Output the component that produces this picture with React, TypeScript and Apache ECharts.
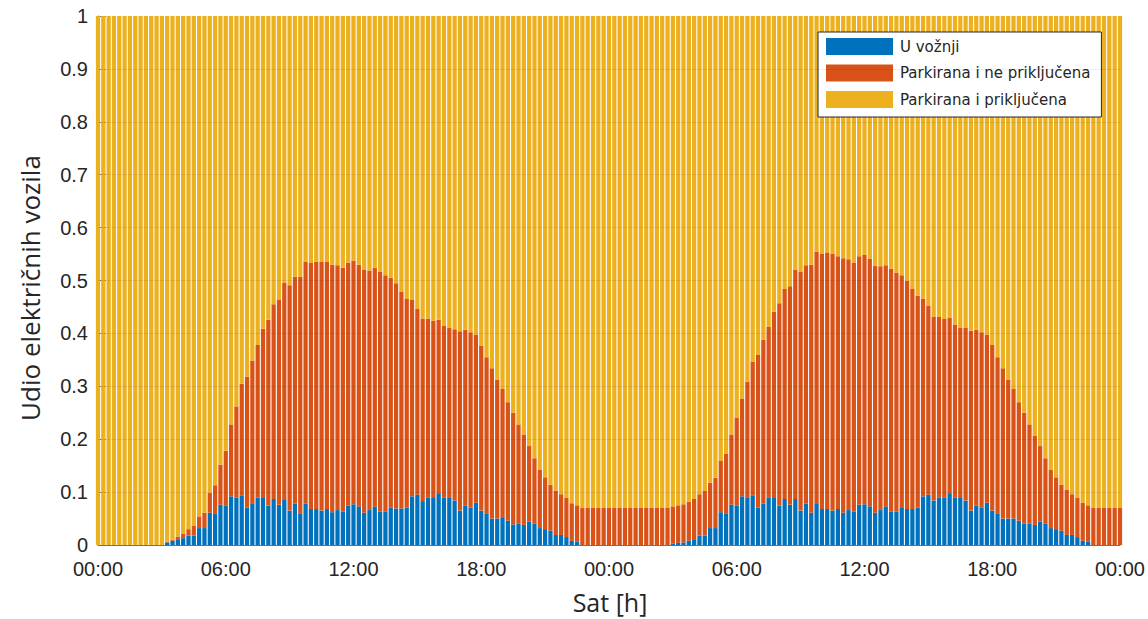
import React, { useEffect, useRef } from "react";
import * as echarts from "echarts";

// Share of vehicles driving, per 15-minute slot (k = 0..95 on day 1)
const drivingDay1 = [
  0, 0, 0, 0, 0, 0, 0, 0, 0, 0, 0, 0, 0,
  0.005, 0.008, 0.011, 0.013, 0.018, 0.018, 0.032, 0.032, 0.061, 0.06, 0.076, 0.075,
  0.092, 0.09, 0.094, 0.071, 0.079, 0.09, 0.089, 0.074, 0.087, 0.076, 0.085, 0.065,
  0.078, 0.06, 0.078, 0.068, 0.068, 0.065, 0.068, 0.062, 0.066,
  0.063, 0.075, 0.077, 0.073, 0.061, 0.066, 0.073, 0.063, 0.063, 0.071, 0.069, 0.069,
  0.071, 0.092, 0.095, 0.083, 0.09, 0.089, 0.098, 0.09, 0.089, 0.084, 0.065, 0.075,
  0.071, 0.08, 0.065, 0.06, 0.05, 0.05, 0.051, 0.046, 0.039, 0.04, 0.038, 0.044,
  0.04, 0.032, 0.03, 0.027, 0.019, 0.019, 0.015, 0.008, 0.006,
  0, 0, 0, 0, 0,
];
// k = 96..192 (day 2, incl. the closing 00:00 slot)
const drivingDay2 = [
  0, 0, 0, 0, 0, 0, 0, 0, 0, 0, 0, 0,
  0.003, 0.004, 0.005, 0.008, 0.011, 0.018, 0.018, 0.032, 0.032, 0.062, 0.06, 0.076,
  0.075, 0.092, 0.089, 0.094, 0.071, 0.078, 0.09, 0.089, 0.074, 0.087, 0.076, 0.087,
  0.065, 0.078, 0.061, 0.079, 0.068, 0.068, 0.065, 0.068, 0.061, 0.066, 0.063, 0.076,
  0.077, 0.073, 0.061, 0.066, 0.073, 0.063, 0.063, 0.07, 0.068, 0.068, 0.071, 0.092,
  0.095, 0.084, 0.09, 0.09, 0.098, 0.09, 0.089, 0.084, 0.065, 0.075, 0.071, 0.08,
  0.065, 0.06, 0.05, 0.05, 0.05, 0.046, 0.04, 0.04, 0.038, 0.044, 0.04, 0.032,
  0.03, 0.027, 0.019, 0.019, 0.015, 0.008, 0.006,
  0, 0, 0, 0, 0, 0,
];
// Share of vehicles not plugged in (driving + parked and not plugged)
const notPluggedDay1 = [
  0, 0, 0, 0, 0, 0, 0, 0, 0, 0, 0, 0, 0,
  0.006, 0.01, 0.016, 0.021, 0.03, 0.036, 0.054, 0.061, 0.099, 0.113, 0.152, 0.178,
  0.228, 0.262, 0.305, 0.318, 0.349, 0.378, 0.409, 0.426, 0.455, 0.463, 0.496, 0.491,
  0.507, 0.507, 0.536, 0.533, 0.536, 0.535, 0.535, 0.53, 0.529,
  0.524, 0.534, 0.538, 0.53, 0.52, 0.519, 0.524, 0.517, 0.51, 0.505, 0.495, 0.479,
  0.465, 0.463, 0.446, 0.428, 0.428, 0.424, 0.426, 0.414, 0.41, 0.408, 0.404, 0.407,
  0.402, 0.398, 0.376, 0.355, 0.334, 0.313, 0.295, 0.27, 0.25, 0.228, 0.209, 0.187,
  0.164, 0.142, 0.128, 0.114, 0.103, 0.096, 0.089, 0.079, 0.075,
  0.07, 0.07, 0.07, 0.07, 0.07,
];
const notPluggedDay2 = [
  0.07, 0.07, 0.07, 0.07, 0.07, 0.07, 0.07, 0.07, 0.07, 0.07, 0.07, 0.07,
  0.073, 0.075, 0.077, 0.082, 0.087, 0.096, 0.102, 0.118, 0.127, 0.159, 0.173, 0.209,
  0.24, 0.277, 0.309, 0.347, 0.359, 0.388, 0.412, 0.441, 0.457, 0.484, 0.489, 0.521,
  0.516, 0.529, 0.53, 0.555, 0.55, 0.552, 0.551, 0.546, 0.542, 0.54, 0.534, 0.546,
  0.548, 0.541, 0.528, 0.527, 0.529, 0.522, 0.515, 0.51, 0.5, 0.484, 0.471, 0.466,
  0.452, 0.432, 0.431, 0.427, 0.429, 0.417, 0.41, 0.41, 0.405, 0.407, 0.402, 0.398,
  0.378, 0.355, 0.334, 0.313, 0.295, 0.27, 0.25, 0.228, 0.207, 0.187, 0.164, 0.142,
  0.128, 0.114, 0.104, 0.096, 0.089, 0.08, 0.075,
  0.07, 0.07, 0.07, 0.07, 0.07, 0.07,
];

const seriesNames = ["U vožnji", "Parkirana i ne priključena", "Parkirana i priključena"];
const seriesColors = ["#0072BD", "#D95319", "#EDB120"];
const xTickLabels = ["00:00", "06:00", "12:00", "18:00", "00:00", "06:00", "12:00", "18:00", "00:00"];
const yTicks = [0, 0.1, 0.2, 0.3, 0.4, 0.5, 0.6, 0.7, 0.8, 0.9, 1];

export default function App() {
  const ref = useRef<HTMLDivElement>(null);

  useEffect(() => {
    document.body.style.margin = "0";
    if (!ref.current) return;
    const chart = echarts.init(ref.current, null, { renderer: "svg" });

    const driving = [...drivingDay1, ...drivingDay2];
    const notPlugged = [...notPluggedDay1, ...notPluggedDay2];
    const parkedUnplugged = notPlugged.map((v, i) => +(v - driving[i]).toFixed(4));
    const parkedPlugged = notPlugged.map((v) => +(1 - v).toFixed(4));
    const categories = driving.map((_, k) => String(k));

    const gridLines = yTicks.slice(1, -1).map((v) => ({ yAxis: v }));

    const mk = (name: string, color: string, data: number[], extra: any = {}) => ({
      name,
      type: "bar",
      stack: "all",
      data,
      barWidth: "80%",
      clip: true,
      itemStyle: { color },
      emphasis: { disabled: true },
      ...extra,
    });

    chart.setOption({
      animation: false,
      backgroundColor: "#ffffff",
      grid: { left: 98, right: 27, top: 16, bottom: 74, containLabel: false },
      legend: {
        orient: "vertical",
        left: 818,
        top: 32,
        icon: "rect",
        itemWidth: 67,
        itemHeight: 17,
        itemGap: 9.5,
        padding: [6, 11, 9, 8],
        backgroundColor: "#ffffff",
        borderColor: "#262626",
        borderWidth: 1,
        textStyle: { fontFamily: "DejaVu Sans", fontSize: 15, color: "#262626", padding: [0, 0, 0, 2] },
        data: seriesNames,
      },
      xAxis: {
        type: "category",
        data: categories,
        boundaryGap: false,
        axisLine: { show: true, lineStyle: { color: "#707070", width: 1 } },
        axisTick: { show: true, inside: true, length: 9, interval: 23, lineStyle: { color: "#707070" } },
        axisLabel: {
          interval: 23,
          margin: 14,
          fontFamily: "Liberation Sans",
          fontSize: 20,
          color: "#262626",
          formatter: (_v: string, i: number) => xTickLabels[Math.round(i / 24)] ?? "",
        },
        splitLine: { show: false },
      },
      yAxis: {
        type: "value",
        min: 0,
        max: 1,
        interval: 0.1,
        axisLine: { show: true, lineStyle: { color: "#707070", width: 1 } },
        axisTick: { show: true, inside: true, length: 8, lineStyle: { color: "#707070" } },
        axisLabel: {
          margin: 10,
          fontFamily: "Liberation Sans",
          fontSize: 20,
          color: "#262626",
          formatter: (v: number) => (v === 0 ? "0" : v === 1 ? "1" : v.toFixed(1)),
        },
        splitLine: { show: false },
      },
      series: [
        mk(seriesNames[0], seriesColors[0], driving),
        mk(seriesNames[1], seriesColors[1], parkedUnplugged),
        mk(seriesNames[2], seriesColors[2], parkedPlugged, {
          markLine: {
            silent: true,
            symbol: "none",
            label: { show: false },
            lineStyle: { color: "rgba(0,0,0,0.07)", width: 1, type: "solid" },
            data: gridLines,
          },
        }),
      ],
      graphic: [
        {
          type: "text",
          x: 30,
          y: 288,
          rotation: Math.PI / 2,
          style: {
            text: "Udio električnih vozila",
            fontFamily: "Open Sans",
            fontSize: 26,
            fill: "#262626",
            align: "center",
            verticalAlign: "middle",
          },
        },
        {
          type: "text",
          x: 610,
          y: 602,
          style: {
            text: "Sat [h]",
            fontFamily: "Open Sans",
            fontSize: 25,
            fill: "#262626",
            align: "center",
            verticalAlign: "middle",
          },
        },
      ],
    });

    return () => chart.dispose();
  }, []);

  return <div ref={ref} style={{ width: 1148, height: 619 }} />;
}
